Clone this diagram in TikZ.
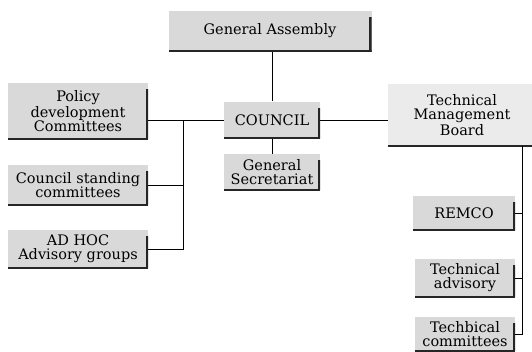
\documentclass[tikz,border=0pt]{standalone}
\usepackage{fontspec}
\setmainfont{DejaVu Serif}
\newlength{\du}
\setlength{\du}{1pt}
\definecolor{boxfill}{rgb}{0.850000, 0.850000, 0.850000}
\definecolor{boardfill}{rgb}{0.920000, 0.920000, 0.920000}
\definecolor{edgecolor}{rgb}{0.150000, 0.150000, 0.150000}
\tikzset{
  orgbox/.style={fill=boxfill, inner sep=0pt, align=center,
    font=\fontsize{14.5}{14}\selectfont,
    path picture={
      \draw[line width=5\du, edgecolor]
        ([yshift=-6\du]path picture bounding box.north east) -- (path picture bounding box.south east);
      \draw[line width=3\du, edgecolor]
        (path picture bounding box.south east) -- (path picture bounding box.south west);
    }},
  boardbox/.style={fill=boardfill, inner sep=0pt, align=center,
    font=\fontsize{14.5}{14}\selectfont,
    path picture={
      \draw[line width=3\du, edgecolor]
        (path picture bounding box.south east) -- (path picture bounding box.south west);
    }},
  link/.style={line width=1\du, black}
}

\begin{document}
\begin{tikzpicture}
\useasboundingbox (0\du,0\du) rectangle (532\du,-351\du);
% council side
\node[orgbox, minimum width=203\du, minimum height=41\du] (assembly) at (270\du,-31\du) {General Assembly};
\node[orgbox, minimum width=96\du, minimum height=37\du] (council) at (272\du,-120\du) {COUNCIL};
\node[orgbox, minimum width=96\du, minimum height=36\du] (secretariat) at (272\du,-172\du) {General\\Secretariat};
\node[orgbox, minimum width=140\du, minimum height=56\du] (policy) at (78\du,-111\du) {Policy\\development\\Committees};
\node[orgbox, minimum width=140\du, minimum height=40\du] (standing) at (78\du,-185\du) {Council standing\\committees};
\node[orgbox, minimum width=140\du, minimum height=38\du] (adhoc) at (78\du,-249\du) {AD HOC\\Advisory groups};
% technical side
\node[boardbox, minimum width=148\du, minimum height=62\du] (board) at (462\du,-115\du) {Technical\\Management\\Board};
\node[orgbox, minimum width=102\du, minimum height=35\du] (remco) at (464\du,-213\du) {REMCO};
\node[orgbox, minimum width=100\du, minimum height=38\du] (advisory) at (465\du,-278\du) {Technical\\advisory};
\node[orgbox, minimum width=100\du, minimum height=34\du] (techcom) at (465\du,-334\du) {Techbical\\committees};
% bus lines
\coordinate (leftbus) at (183\du,-120\du);
\coordinate (rightbus) at (522\du,-146\du);
\draw[link] (assembly.south -| council.north) -- (council.north);
\draw[link] (council.south) -- (secretariat.north);
\draw[link] (council.west) -- (council.west -| policy.east);
\draw[link] (leftbus) -- (leftbus |- adhoc.east) -- (adhoc.east);
\draw[link] (standing.east) -- (standing.east -| leftbus);
\draw[link] (council.east) -- (council.east -| board.west);
\draw[link] (rightbus) -- (rightbus |- techcom.east) -- (techcom.east);
\draw[link] (remco.east) -- (remco.east -| rightbus);
\draw[link] (advisory.east) -- (advisory.east -| rightbus);
\end{tikzpicture}
\end{document}
